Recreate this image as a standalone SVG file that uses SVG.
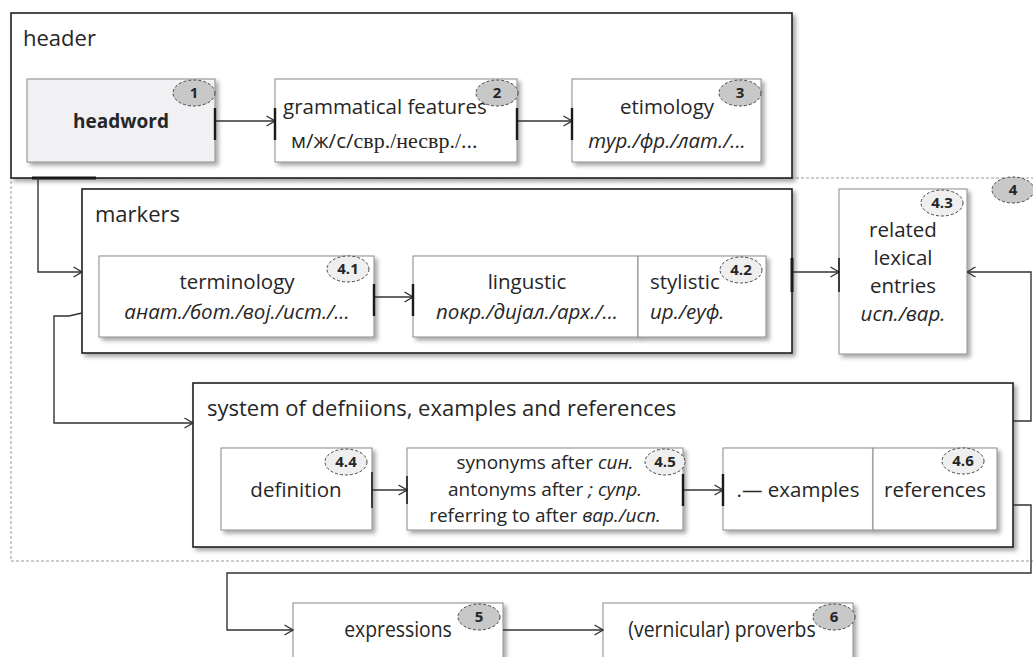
<svg xmlns="http://www.w3.org/2000/svg" width="1033" height="657" viewBox="0 0 1033 657">
<style>
.grp{fill:#fff;stroke:#1f1f1f;stroke-width:1.6}
.box{fill:#fff;stroke:#8a8a8a;stroke-width:1}
.hw{fill:#f1f1f3;stroke:#8a8a8a;stroke-width:1}
.t{font-family:"Open Sans","Liberation Sans",sans-serif;font-size:20.5px;fill:#262626}
.g{font-size:22px}
.s{font-size:19px}
.c{text-anchor:middle}
.i{font-style:italic}
.sf{font-family:"Liberation Serif",serif;font-size:22px}
.b1{fill:#c8c8c8;stroke:#444;stroke-width:1;stroke-dasharray:3 2}
.b2{fill:#efefef;stroke:#444;stroke-width:1;stroke-dasharray:3 2}
.bt{font-family:"Open Sans","Liberation Sans",sans-serif;font-size:15px;font-weight:bold;fill:#262626;text-anchor:middle}
.conn{fill:none;stroke:#333;stroke-width:1.4}
.tick{stroke:#1a1a1a;stroke-width:2.4}
.dash{fill:none;stroke:#9a9a9a;stroke-width:1;stroke-dasharray:3 2}
</style>
<defs>
<filter id="sh" x="-10%" y="-10%" width="130%" height="130%">
<feDropShadow dx="3" dy="3" stdDeviation="2" flood-color="#000" flood-opacity="0.35"/>
</filter>
<marker id="ar" viewBox="0 0 10 12" refX="9.5" refY="6" markerWidth="10" markerHeight="12" markerUnits="userSpaceOnUse" orient="auto">
<path d="M1,1 L9.5,6 L1,11" fill="none" stroke="#333" stroke-width="1.4"/>
</marker>
</defs>

<rect class="dash" x="11" y="178" width="1030" height="383"/>

<g id="header">
<rect class="grp" x="11" y="13" width="781" height="165" filter="url(#sh)"/>
<text class="t g" x="23" y="46">header</text>
</g>

<g id="headword">
<rect class="hw" x="27" y="79" width="188" height="83" filter="url(#sh)"/>
<text class="t c" x="121" y="128" style="font-weight:bold;font-size:19px">headword</text>
<ellipse class="b1" cx="194" cy="93" rx="21" ry="13"/>
<text class="bt" x="194" y="98">1</text>
</g>

<g id="grammatical">
<rect class="box" x="275" y="79" width="242" height="83" filter="url(#sh)"/>
<text class="t" x="283" y="114">grammatical features</text>
<text class="t" x="291" y="148">м/ж/с/<tspan class="sf">свр./несвр./...</tspan></text>
<ellipse class="b1" cx="497" cy="93" rx="21" ry="13"/>
<text class="bt" x="497" y="98">2</text>
</g>

<g id="etimology">
<rect class="box" x="572" y="79" width="189" height="83" filter="url(#sh)"/>
<text class="t c" x="667" y="114">etimology</text>
<text class="t c i" x="667" y="148">тур./фр./лат./...</text>
<ellipse class="b1" cx="740" cy="93" rx="21" ry="13"/>
<text class="bt" x="740" y="98">3</text>
</g>

<g id="group4">
<ellipse class="b1" cx="1013" cy="190" rx="21" ry="13"/>
<text class="bt" x="1013" y="195">4</text>
</g>

<g id="markers">
<rect class="grp" x="82" y="189" width="710" height="164" filter="url(#sh)"/>
<text class="t g" x="95" y="222">markers</text>
</g>

<g id="terminology">
<rect class="box" x="99" y="256" width="275" height="81" filter="url(#sh)"/>
<text class="t c" x="237" y="289">terminology</text>
<text class="t c i" x="237" y="319">анат./бот./вој./ист./...</text>
<ellipse class="b2" cx="348" cy="269" rx="21" ry="13"/>
<text class="bt" x="348" y="274">4.1</text>
</g>

<g id="lingustic">
<rect class="box" x="413" y="256" width="225" height="81" filter="url(#sh)"/>
<text class="t c" x="527" y="289">lingustic</text>
<text class="t c i" x="527" y="319">покр./дијал./арх./...</text>
</g>

<g id="stylistic">
<rect class="box" x="638" y="256" width="128" height="81" filter="url(#sh)"/>
<text class="t" x="650" y="289">stylistic</text>
<text class="t i" x="650" y="319">ир./еуф.</text>
<ellipse class="b2" cx="741" cy="270" rx="21" ry="13"/>
<text class="bt" x="741" y="275">4.2</text>
</g>

<g id="related">
<rect class="box" x="839" y="189" width="128" height="165" filter="url(#sh)"/>
<text class="t c" x="903" y="237">related</text>
<text class="t c" x="903" y="265">lexical</text>
<text class="t c" x="903" y="293">entries</text>
<text class="t c i" x="903" y="321">исп./вар.</text>
<ellipse class="b2" cx="942" cy="203" rx="21" ry="13"/>
<text class="bt" x="942" y="208">4.3</text>
</g>

<g id="system">
<rect class="grp" x="193" y="383" width="820" height="164" filter="url(#sh)"/>
<text class="t g" x="207" y="416">system of defniions, examples and references</text>
</g>

<g id="definition">
<rect class="box" x="221" y="448" width="151" height="82" filter="url(#sh)"/>
<text class="t c" x="296" y="497">definition</text>
<ellipse class="b2" cx="346" cy="462" rx="21" ry="13"/>
<text class="bt" x="346" y="467">4.4</text>
</g>

<g id="synonyms">
<rect class="box" x="407" y="448" width="276" height="82" filter="url(#sh)"/>
<text class="t s c" x="545" y="469">synonyms after <tspan class="i">син.</tspan></text>
<text class="t s c" x="545" y="495.5">antonyms after <tspan class="i">; супр.</tspan></text>
<text class="t s c" x="545" y="522">referring to after <tspan class="i">вар./исп.</tspan></text>
<ellipse class="b2" cx="665" cy="462" rx="20" ry="13"/>
<text class="bt" x="665" y="467">4.5</text>
</g>

<g id="examples">
<rect class="box" x="723" y="448" width="150" height="82" filter="url(#sh)"/>
<text class="t c" x="798" y="497">.— examples</text>
</g>

<g id="references">
<rect class="box" x="873" y="448" width="124" height="82" filter="url(#sh)"/>
<text class="t c" x="935" y="497">references</text>
<ellipse class="b2" cx="963" cy="461" rx="21" ry="13"/>
<text class="bt" x="963" y="466">4.6</text>
</g>

<g id="expressions">
<rect class="box" x="293" y="603" width="210" height="70" filter="url(#sh)"/>
<text class="t c" transform="translate(398,637) scale(0.88,1)" x="0" y="0" style="font-size:22px">expressions</text>
<ellipse class="b1" cx="479" cy="617" rx="21" ry="13"/>
<text class="bt" x="479" y="622">5</text>
</g>

<g id="proverbs">
<rect class="box" x="603" y="603" width="250" height="70" filter="url(#sh)"/>
<text class="t c" transform="translate(722,637) scale(0.88,1)" x="0" y="0" style="font-size:22px">(vernicular) proverbs</text>
<ellipse class="b1" cx="834" cy="617" rx="21" ry="13"/>
<text class="bt" x="834" y="622">6</text>
</g>

<g id="connectors">
<path class="conn" d="M215,121 H275" marker-end="url(#ar)"/>
<path class="conn" d="M517,121 H572" marker-end="url(#ar)"/>
<line class="tick" x1="215" y1="108" x2="215" y2="140"/>
<line class="tick" x1="275" y1="108" x2="275" y2="140"/>
<line class="tick" x1="517" y1="108" x2="517" y2="140"/>
<line class="tick" x1="572" y1="108" x2="572" y2="140"/>
<line class="tick" x1="32" y1="178" x2="96" y2="178" style="stroke-width:3"/>
<path class="conn" d="M38,178 V272 H82" marker-end="url(#ar)"/>
<path class="conn" d="M82,313 L69,316 H54 V423 H193" marker-end="url(#ar)"/>
<path class="conn" d="M374,297 H413" marker-end="url(#ar)"/>
<line class="tick" x1="374" y1="284" x2="374" y2="316"/>
<line class="tick" x1="413" y1="284" x2="413" y2="316"/>
<path class="conn" d="M792,272 H839" marker-end="url(#ar)"/>
<line class="tick" x1="792" y1="258" x2="792" y2="292" style="stroke-width:3"/>
<line class="tick" x1="839" y1="258" x2="839" y2="292" style="stroke-width:1.6"/>
<path class="conn" d="M1013,421 H1031 V272 H967" marker-end="url(#ar)"/>
<path class="conn" d="M372,490 H407" marker-end="url(#ar)"/>
<line class="tick" x1="372" y1="472" x2="372" y2="508" style="stroke-width:1.6"/>
<line class="tick" x1="407" y1="476" x2="407" y2="504" style="stroke-width:1.6"/>
<path class="conn" d="M683,490 H723" marker-end="url(#ar)"/>
<line class="tick" x1="683" y1="474" x2="683" y2="506"/>
<line class="tick" x1="723" y1="474" x2="723" y2="506"/>
<path class="conn" d="M1013,505 H1031 V573 H227 V630 H293" marker-end="url(#ar)"/>
<path class="conn" d="M503,630 H603" marker-end="url(#ar)"/>
</g>
</svg>
